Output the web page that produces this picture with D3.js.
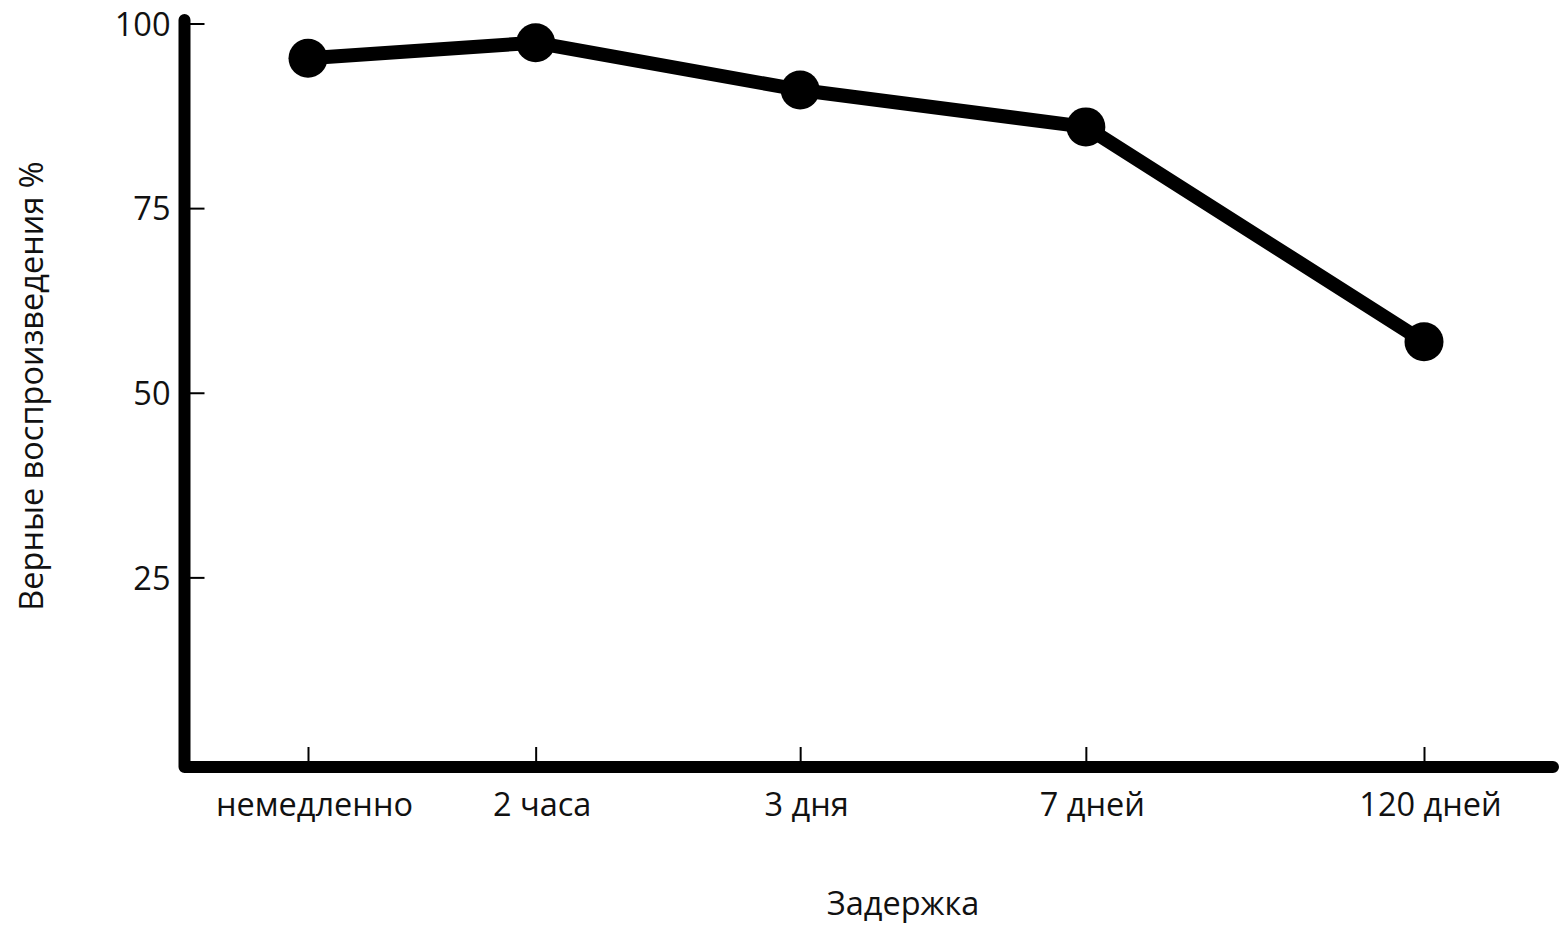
<!DOCTYPE html>
<html>
<head>
<meta charset="utf-8">
<script src="https://cdn.jsdelivr.net/npm/d3@7"></script>
<style>
  html, body { margin: 0; padding: 0; background: #fff; }
  svg { display: block; }
  text { font-family: "Open Sans", sans-serif; fill: #111; }
</style>
</head>
<body>
<svg id="chart" width="1559" height="925"></svg>
<script>
// ---- data ----
const categories = ["немедленно", "2 часа", "3 дня", "7 дней", "120 дней"];
const values = [95.3, 97.4, 91.0, 86.0, 56.9];
const yTicks = [25, 50, 75, 100];
const yLabel = "Верные воспроизведения %";
const xLabel = "Задержка";

// ---- layout ----
const W = 1559, H = 925;
const axisX = 184.5, axisY = 767;
const yTop = 23.5, yZero = 762;
const xFirst = 308, xLast = 1424;
const slotFractions = [0, 0.204, 0.441, 0.697, 1];
const fontSize = 32.5;
const fontWeight = 500;

const svg = d3.select("#chart");

const x = d3.scaleOrdinal()
  .domain(categories)
  .range(slotFractions.map(f => xFirst + f * (xLast - xFirst)));

const y = d3.scaleLinear().domain([0, 100]).range([yZero, yTop]);

// thick L-shaped axes
svg.append("path")
  .attr("d", d3.line()([[axisX, 20], [axisX, axisY], [1553, axisY]]))
  .attr("fill", "none")
  .attr("stroke", "#000")
  .attr("stroke-width", 12)
  .attr("stroke-linecap", "round")
  .attr("stroke-linejoin", "round");

// y axis ticks + labels
const yAxis = d3.axisLeft(y).tickValues(yTicks).tickSize(-20).tickPadding(14);
const gy = svg.append("g").attr("transform", `translate(${axisX},0)`).call(yAxis);
gy.select(".domain").remove();
gy.selectAll(".tick line").attr("stroke", "#000").attr("stroke-width", 2);
gy.selectAll(".tick text")
  .attr("font-family", "Open Sans, sans-serif")
  .attr("font-size", fontSize)
  .attr("font-weight", fontWeight)
  .attr("fill", "#111")
  .attr("dy", "0.36em");

// x axis ticks + labels
const xAxis = d3.axisBottom(x).tickSize(-20).tickPadding(26);
const gx = svg.append("g").attr("transform", `translate(0,${axisY})`).call(xAxis);
gx.select(".domain").remove();
gx.selectAll(".tick line").attr("stroke", "#000").attr("stroke-width", 2).attr("y1", -6);
gx.selectAll(".tick text")
  .attr("font-family", "Open Sans, sans-serif")
  .attr("font-size", fontSize)
  .attr("font-weight", fontWeight)
  .attr("fill", "#111")
  .attr("dx", 6);

// data line
const pts = categories.map((c, i) => ({ c, v: values[i] }));
svg.append("path")
  .datum(pts)
  .attr("d", d3.line().x(d => x(d.c)).y(d => y(d.v)))
  .attr("fill", "none")
  .attr("stroke", "#000")
  .attr("stroke-width", 14)
  .attr("stroke-linejoin", "round");

svg.selectAll("circle.pt")
  .data(pts)
  .join("circle")
  .attr("class", "pt")
  .attr("cx", d => x(d.c))
  .attr("cy", d => y(d.v))
  .attr("r", 19.5)
  .attr("fill", "#000");

// axis titles
svg.append("text")
  .attr("transform", `translate(43,386) rotate(-90)`)
  .attr("text-anchor", "middle")
  .attr("font-size", fontSize)
  .attr("font-weight", fontWeight)
  .text(yLabel);

svg.append("text")
  .attr("x", 903)
  .attr("y", 915)
  .attr("text-anchor", "middle")
  .attr("font-size", fontSize)
  .attr("font-weight", fontWeight)
  .text(xLabel);
</script>
</body>
</html>
